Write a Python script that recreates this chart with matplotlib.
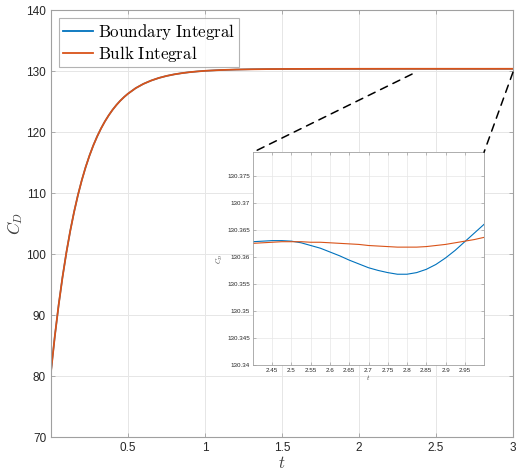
import matplotlib
matplotlib.use("Agg")
import matplotlib.pyplot as plt
from matplotlib.patches import ConnectionPatch
from matplotlib.ticker import FormatStrFormatter

plt.rcParams["mathtext.fontset"] = "cm"
plt.rcParams["font.family"] = ["Liberation Sans", "DejaVu Sans"]

# Start-up transient, shared by both drag estimates
t_early = [0.0, 0.025, 0.05, 0.075, 0.1, 0.125, 0.15, 0.175, 0.2, 0.225, 0.25,
           0.275, 0.3, 0.325, 0.35, 0.375, 0.4, 0.425, 0.45, 0.475, 0.5, 0.55,
           0.6, 0.65, 0.7, 0.75, 0.8, 0.85, 0.9, 0.95, 1.0, 1.1, 1.2, 1.3, 1.4,
           1.5, 1.6, 1.8, 2.0, 2.2]
cd_early = [80.70, 86.54, 91.69, 96.23, 100.24, 103.78, 106.90, 109.66, 112.09,
            114.24, 116.13, 117.81, 119.28, 120.58, 121.73, 122.74, 123.64,
            124.43, 125.13, 125.74, 126.28, 127.19, 127.89, 128.43, 128.86,
            129.19, 129.45, 129.65, 129.81, 129.93, 130.03, 130.16, 130.237,
            130.285, 130.315, 130.333, 130.343, 130.354, 130.358, 130.3615]

# Late-time window, where the two estimates separate
t_late = [2.4, 2.425, 2.45, 2.475, 2.5, 2.525, 2.55, 2.575, 2.6, 2.625, 2.65,
          2.675, 2.7, 2.725, 2.75, 2.775, 2.8, 2.825, 2.85, 2.875, 2.9, 2.925,
          2.95, 2.975, 3.0]
cd_boundary_late = [130.3628, 130.3629, 130.3630, 130.3630, 130.3629, 130.3626,
                    130.3621, 130.3616, 130.3609, 130.3602, 130.3594, 130.3587,
                    130.3580, 130.3575, 130.3571, 130.3568, 130.3568, 130.3571,
                    130.3577, 130.3586, 130.3598, 130.3612, 130.3628, 130.3644,
                    130.3660]
cd_bulk_late = [130.3625, 130.3626, 130.3627, 130.3628, 130.3628, 130.3628,
                130.3627, 130.3627, 130.3626, 130.3625, 130.3624, 130.3623,
                130.3621, 130.3620, 130.3619, 130.3618, 130.3618, 130.3618,
                130.3619, 130.3621, 130.3623, 130.3626, 130.3629, 130.3632,
                130.3636]

main_xticks = [0.5, 1, 1.5, 2, 2.5, 3]
main_yticks = [70, 80, 90, 100, 110, 120, 130, 140]
inset_xticks = [2.45, 2.5, 2.55, 2.6, 2.65, 2.7, 2.75, 2.8, 2.85, 2.9, 2.95]
inset_yticks = [130.34, 130.345, 130.35, 130.355, 130.36, 130.365, 130.37, 130.375]

BLUE = "#0072BD"
ORANGE = "#D95319"
SPINE = "#a0a0a0"
GRID = "#e6e6e6"
TICKTXT = "#262626"

t_all = t_early + t_late
cd_boundary = cd_early + cd_boundary_late
cd_bulk = cd_early + cd_bulk_late

fig = plt.figure(figsize=(5.16, 4.70), dpi=100)
ax = fig.add_axes([0.0988, 0.0702, 0.8953, 0.9085])

ax.plot(t_all, cd_boundary, color=BLUE, lw=1.1, label=r"$\mathrm{Boundary\ Integral}$")
ax.plot(t_all, cd_bulk, color=ORANGE, lw=1.3, label=r"$\mathrm{Bulk\ Integral}$")
ax.set_xlim(0, 3)
ax.set_ylim(70, 140)
ax.set_xticks(main_xticks)
ax.set_xticklabels(["%g" % v for v in main_xticks])
ax.set_yticks(main_yticks)
ax.grid(True, color=GRID, lw=0.7)
ax.set_axisbelow(True)
ax.tick_params(direction="in", length=3, width=0.6, color=SPINE,
               labelsize=8.5, labelcolor=TICKTXT, top=True, right=True,
               labeltop=False, labelright=False)
for s in ax.spines.values():
    s.set_color(SPINE)
    s.set_linewidth(0.8)
ax.set_xlabel(r"$t$", fontsize=12, color="#404040", labelpad=1)
ax.set_ylabel(r"$C_D$", fontsize=12, color="#404040", labelpad=1)

leg = ax.legend(loc="upper left", fontsize=12.2, frameon=True, fancybox=False,
                edgecolor=SPINE, handlelength=1.8, handletextpad=0.3,
                borderpad=0.2, labelspacing=0.1, borderaxespad=0.5)
leg.get_frame().set_linewidth(0.8)
for h in leg.get_lines():
    h.set_linewidth(1.3)

# Zoomed view of the late-time window
axin = fig.add_axes([0.4903, 0.2228, 0.4477, 0.4532])
axin.plot(t_late, cd_boundary_late, color=BLUE, lw=0.8)
axin.plot(t_late, cd_bulk_late, color=ORANGE, lw=0.8)
axin.set_xlim(2.4, 3.0)
axin.set_ylim(130.34, 130.3793)
axin.set_xticks(inset_xticks)
axin.set_yticks(inset_yticks)
axin.xaxis.set_major_formatter(FormatStrFormatter("%g"))
axin.yaxis.set_major_formatter(FormatStrFormatter("%g"))
axin.grid(True, color=GRID, lw=0.5)
axin.set_axisbelow(True)
axin.tick_params(direction="in", length=2, width=0.5, color=SPINE,
                 labelsize=4.5, labelcolor=TICKTXT, top=True, right=True,
                 pad=2)
for s in axin.spines.values():
    s.set_color(SPINE)
    s.set_linewidth(0.6)
axin.set_xlabel(r"$t$", fontsize=5, color="#404040", labelpad=0)
axin.set_ylabel(r"$C_D$", fontsize=5, color="#404040", labelpad=2)

# Dashed guides from the main curve to the inset corners
for (xa, ya), corner in [((2.345, 129.5), (0, 1)), ((3.0, 129.8), (1, 1))]:
    con = ConnectionPatch(xyA=(xa, ya), coordsA=ax.transData,
                          xyB=corner, coordsB=axin.transAxes,
                          color="black", lw=1.1, linestyle=(0, (5, 4)))
    fig.add_artist(con)

fig.savefig("out.png", dpi=100)
